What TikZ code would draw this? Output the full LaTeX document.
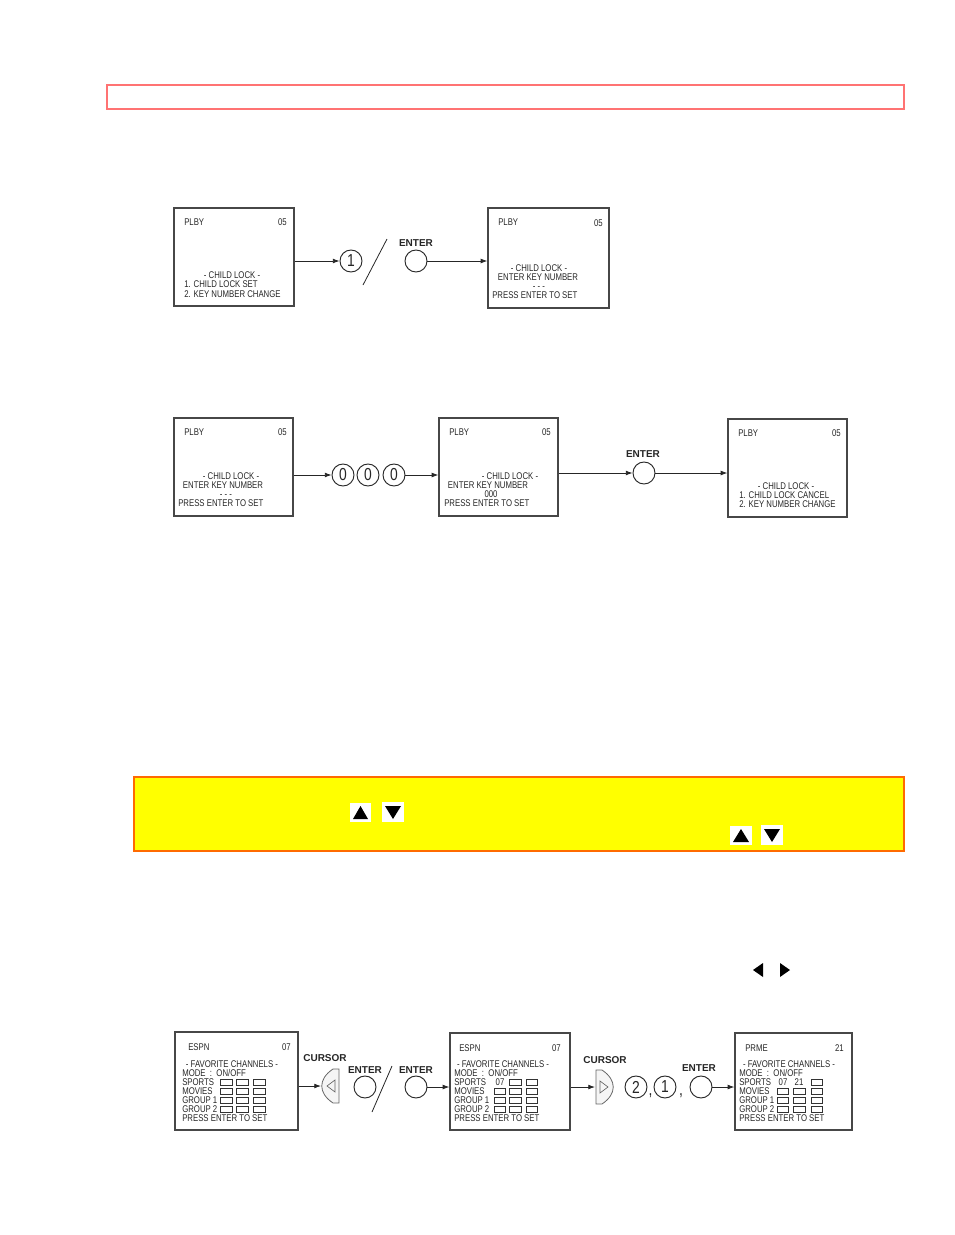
\documentclass[tikz,border=0pt]{standalone}
\usepackage{fontspec}
\setmainfont{Liberation Sans}
\newfontfamily\scrfont{Liberation Sans}[FakeStretch=0.8]
\usetikzlibrary{arrows.meta,fit}
\definecolor{redline}{HTML}{FF7373}
\definecolor{ybox}{HTML}{FFFF00}
\definecolor{yline}{HTML}{FF6A00}
\begin{document}
\begin{tikzpicture}[x=0.75pt,y=-0.75pt,
 screen/.style={draw=black!72, line width=0.9pt, inner sep=0pt},
 st/.style={font=\scrfont\fontsize{7.3}{8}\selectfont, inner sep=0pt, text height=5.2pt, text depth=0pt, text=black!85},
 lbl/.style={font=\bfseries\fontsize{7.5}{8}\selectfont, inner sep=0pt, text=black!85},
 key/.style={circle, draw=black!85, line width=0.7pt, minimum size=16.5pt, inner sep=0pt},
 dig/.style={key, font=\scrfont\fontsize{13}{13}\selectfont, text=black!85},
 arr/.style={draw=black!85, line width=0.6pt, -{Latex[length=5pt,width=3.6pt]}},
 chk/.style={draw=black!80, line width=0.5pt, minimum width=8.6pt, minimum height=4.6pt, inner sep=0pt},
 slash/.style={draw=black!85, line width=0.6pt},
 icon/.style={fill=white, draw=none},
]
\useasboundingbox (0,0) rectangle (954,1235);
% top red box
\draw[redline, line width=0.9pt] (107,85) rectangle (904,109);

% ---------- Row 1 ----------
\node[screen, fit={(174,208) (294,306)}] (A) {};
\node[st, anchor=west] (A1) at (184,222) {PLBY};
\node[st, anchor=east] (A2) at (287,222) {05};
\node[st] (A3) at (232,275) {- CHILD LOCK -};
\node[st, anchor=west] (A4) at (184,284) {1. CHILD LOCK SET};
\node[st, anchor=west] (A5) at (184,294) {2. KEY NUMBER CHANGE};

\node[dig] (n1) at (351,261) {1};
\draw[slash] (363,285) -- (387,239);
\node[lbl] (l1) at (416,243) {ENTER};
\node[key] (k1) at (416,261) {};

\node[screen, fit={(488,208) (609,308)}] (B) {};
\node[st, anchor=west] (B1) at (498,222) {PLBY};
\node[st, anchor=east] (B2) at (603,223) {05};
\node[st] (B3) at (539,268) {- CHILD LOCK -};
\node[st] (B4) at (538,277) {ENTER KEY NUMBER};
\node[st] (B5) at (539,286) {- - -};
\node[st, anchor=west] (B6) at (492,295) {PRESS ENTER TO SET};

\draw[arr] (A.east|-n1) -- (n1.west);
\draw[arr] (k1.east) -- (B.west|-k1);

% ---------- Row 2 ----------
\node[screen, fit={(174,418) (293,516)}] (C) {};
\node[st, anchor=west] (C1) at (184,432) {PLBY};
\node[st, anchor=east] (C2) at (287,432) {05};
\node[st] (C3) at (231,476) {- CHILD LOCK -};
\node[st] (C4) at (223,485) {ENTER KEY NUMBER};
\node[st] (C5) at (226,494) {- - -};
\node[st, anchor=west] (C6) at (178,503) {PRESS ENTER TO SET};

\node[dig] (z1) at (343,475) {0};
\node[dig] (z2) at (368,475) {0};
\node[dig] (z3) at (394,475) {0};

\node[screen, fit={(439,418) (558,516)}] (D) {};
\node[st, anchor=west] (D1) at (449,432) {PLBY};
\node[st, anchor=east] (D2) at (551,432) {05};
\node[st] (D3) at (510,476) {- CHILD LOCK -};
\node[st] (D4) at (488,485) {ENTER KEY NUMBER};
\node[st] (D5) at (491,494) {000};
\node[st, anchor=west] (D6) at (444,503) {PRESS ENTER TO SET};

\node[lbl] (l2) at (643,454) {ENTER};
\node[key] (k2) at (644,473) {};

\node[screen, fit={(728,419) (847,517)}] (E) {};
\node[st, anchor=west] (E1) at (738,433) {PLBY};
\node[st, anchor=east] (E2) at (841,433) {05};
\node[st] (E3) at (786,486) {- CHILD LOCK -};
\node[st, anchor=west] (E4) at (739,495) {1. CHILD LOCK CANCEL};
\node[st, anchor=west] (E5) at (739,504) {2. KEY NUMBER CHANGE};

\draw[arr] (C.east|-z1) -- (z1.west);
\draw[arr] (z3.east) -- (D.west|-z3);
\draw[arr] (D.east|-k2) -- (k2.west);
\draw[arr] (k2.east) -- (E.west|-k2);

% ---------- Yellow box ----------
\draw[yline, fill=ybox, line width=1.1pt] (134,777) rectangle (904,851);
\fill[icon] (350,803) rectangle (371,822);
\fill[black] (353,819) -- (368,819) -- (360.5,806) -- cycle;
\fill[icon] (382,802) rectangle (404,822);
\fill[black] (385,806) -- (401,806) -- (393,819) -- cycle;
\fill[icon] (730,826) rectangle (752,845);
\fill[black] (733,842) -- (749,842) -- (741,829) -- cycle;
\fill[icon] (761,825) rectangle (783,845);
\fill[black] (764,829) -- (780,829) -- (772,842) -- cycle;

% left / right arrows
\fill[black] (753,970) -- (763,963) -- (763,977) -- cycle;
\fill[black] (790,970) -- (780,963) -- (780,977) -- cycle;

% ---------- Bottom row ----------
\node[screen, fit={(175,1032) (298,1130)}] (F) {};
\node[st, anchor=west] (F1) at (188,1047) {ESPN};
\node[st, anchor=east] (F2) at (291,1047) {07};
\node[st] (F3) at (232,1064) {- FAVORITE CHANNELS -};
\node[st, anchor=west] (F4) at (182,1073) {MODE\ \ :\ \ ON/OFF};
\node[st, anchor=west] (F5) at (182,1082) {SPORTS};
\node[st, anchor=west] (F6) at (182,1091) {MOVIES};
\node[st, anchor=west] (F7) at (182,1100) {GROUP 1};
\node[st, anchor=west] (F8) at (182,1109) {GROUP 2};
\node[st, anchor=west] (F9) at (182,1118) {PRESS ENTER TO SET};
\foreach \r [count=\i] in {1082,1091,1100,1109}{
  \node[chk] (fa\i) at (226.5,\r) {};
  \node[chk] (fb\i) at (242.5,\r) {};
  \node[chk] (fc\i) at (259.5,\r) {};
}

\node[lbl] (l3) at (325,1058) {CURSOR};
\coordinate (cl) at (321,1086);
\draw[black!60, line width=0.6pt, fill=black!4] (339,1069) -- (333,1069) .. controls (318,1079) and (318,1093) .. (333,1103) -- (339,1103) -- cycle;
\draw[black!60, line width=0.5pt] (327,1086) -- (335,1080) -- (335,1092) -- cycle;
\node[lbl] (l4) at (365,1070) {ENTER};
\node[key] (k3) at (365,1087) {};
\draw[slash] (372,1112) -- (392,1066);
\node[lbl] (l5) at (416,1070) {ENTER};
\node[key] (k4) at (416,1087) {};

\node[screen, fit={(450,1033) (570,1130)}] (G) {};
\node[st, anchor=west] (G1) at (459,1048) {ESPN};
\node[st, anchor=east] (G2) at (561,1048) {07};
\node[st] (G3) at (503,1064) {- FAVORITE CHANNELS -};
\node[st, anchor=west] (G4) at (454,1073) {MODE\ \ :\ \ ON/OFF};
\node[st, anchor=west] (G5) at (454,1082) {SPORTS};
\node[st, anchor=west] (G6) at (454,1091) {MOVIES};
\node[st, anchor=west] (G7) at (454,1100) {GROUP 1};
\node[st, anchor=west] (G8) at (454,1109) {GROUP 2};
\node[st, anchor=west] (G9) at (454,1118) {PRESS ENTER TO SET};
\node[st] (G10) at (500,1082) {07};
\node[chk] (gb1) at (515.5,1082) {};
\node[chk] (gc1) at (532,1082) {};
\foreach \r [count=\i from 2] in {1091,1100,1109}{
  \node[chk] (ga\i) at (500,\r) {};
  \node[chk] (gb\i) at (515.5,\r) {};
  \node[chk] (gc\i) at (532,\r) {};
}

\node[lbl] (l6) at (605,1060) {CURSOR};
\coordinate (cr) at (595,1087);
\draw[black!60, line width=0.6pt, fill=black!4] (596,1070) -- (602,1070) .. controls (617,1080) and (617,1094) .. (602,1104) -- (596,1104) -- cycle;
\draw[black!60, line width=0.5pt] (608,1087) -- (600,1081) -- (600,1093) -- cycle;
\node[dig] (n2) at (636,1087) {2};
\node[font=\scrfont\fontsize{13}{13}\selectfont, inner sep=0pt, anchor=base, text=black!85] (cm1) at (650.5,1095) {,};
\node[dig] (n3) at (665,1087) {1};
\node[font=\scrfont\fontsize{13}{13}\selectfont, inner sep=0pt, anchor=base, text=black!85] (cm2) at (681,1095) {,};
\node[lbl] (l7) at (699,1068) {ENTER};
\node[key] (k5) at (701,1087) {};

\node[screen, fit={(735,1033) (852,1130)}] (H) {};
\node[st, anchor=west] (H1) at (745,1048) {PRME};
\node[st, anchor=east] (H2) at (844,1048) {21};
\node[st] (H3) at (789,1064) {- FAVORITE CHANNELS -};
\node[st, anchor=west] (H4) at (739,1073) {MODE\ \ :\ \ ON/OFF};
\node[st, anchor=west] (H5) at (739,1082) {SPORTS};
\node[st, anchor=west] (H6) at (739,1091) {MOVIES};
\node[st, anchor=west] (H7) at (739,1100) {GROUP 1};
\node[st, anchor=west] (H8) at (739,1109) {GROUP 2};
\node[st, anchor=west] (H9) at (739,1118) {PRESS ENTER TO SET};
\node[st] (H10) at (783,1082) {07};
\node[st] (H11) at (799,1082) {21};
\node[chk] (hc1) at (817,1082) {};
\foreach \r [count=\i from 2] in {1091,1100,1109}{
  \node[chk] (ha\i) at (783,\r) {};
  \node[chk] (hb\i) at (799.5,\r) {};
  \node[chk] (hc\i) at (817,\r) {};
}

\draw[arr] (F.east|-cl) -- (cl);
\draw[arr] (k4.east) -- (G.west|-k4);
\draw[arr] (G.east|-cr) -- (cr);
\draw[arr] (k5.east) -- (H.west|-k5);
\end{tikzpicture}
\end{document}
